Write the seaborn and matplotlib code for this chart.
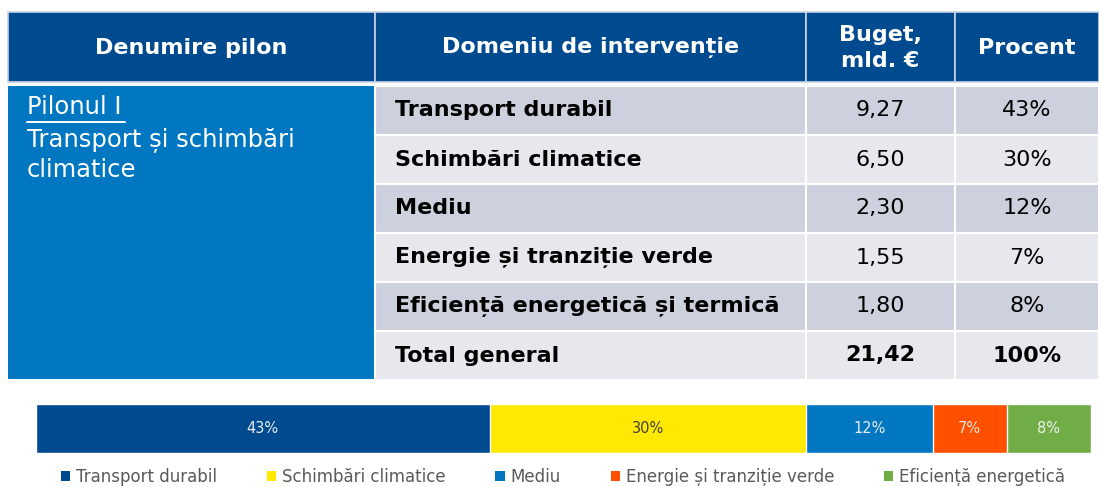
import numpy as np
import pandas as pd
import seaborn as sns
import matplotlib.pyplot as plt
from matplotlib.patches import Rectangle, Patch

# data
domenii = ["Transport durabil", "Schimbări climatice", "Mediu",
           "Energie și tranziție verde", "Eficiență energetică și termică"]
buget = [9.27, 6.50, 2.30, 1.55, 1.80]
procent = [43, 30, 12, 7, 8]
total_buget = 21.42
total_procent = 100
legend_labels = ["Transport durabil", "Schimbări climatice", "Mediu",
                 "Energie și tranziție verde", "Eficiență energetică"]
header = ["Denumire pilon", "Domeniu de intervenție", "Buget,\nmld. €", "Procent"]
pilon_title = "Pilonul I"
pilon_name = "Transport și schimbări\nclimatice"

colors = ["#004A8F", "#FFE900", "#0077C0", "#FF5000", "#70AD47"]
label_colors = ["#E8ECF4", "#404040", "#E8ECF4", "#F3E3DA", "#EEF3EA"]

sns.set_theme(style="white")
plt.rcParams['font.family'] = ['DejaVu Sans']

W, H = 1099, 487
fig = plt.figure(figsize=(W / 100, H / 100), dpi=100)

# ---- table (pixel layout) ----
tab = fig.add_axes([0, 0, 1, 1])
tab.set_xlim(0, W)
tab.set_ylim(H, 0)
tab.axis("off")

col_x = [8, 375, 806, 955, 1099]
head_top, head_bot = 12, 82
row_top = 86
row_h = 49

for i in range(4):
    tab.add_patch(Rectangle((col_x[i], head_top), col_x[i + 1] - col_x[i], head_bot - head_top,
                            facecolor="#004A8F", edgecolor="#C9D3E6", lw=1.2))
    tab.text((col_x[i] + col_x[i + 1]) / 2, (head_top + head_bot) / 2 + 1, header[i],
             color="white", fontsize=16, fontweight="bold", ha="center", va="center",
             linespacing=1.4)

rows = list(zip(domenii, [f"{b:.2f}".replace(".", ",") for b in buget], [f"{p}%" for p in procent]))
rows.append(("Total general", f"{total_buget:.2f}".replace(".", ","), f"{total_procent}%"))
n = len(rows)

tab.add_patch(Rectangle((col_x[0], row_top), col_x[1] - col_x[0], row_h * n - 1,
                        facecolor="#0077C0", edgecolor="none"))
tab.text(27, row_top + 21, pilon_title, color="white", fontsize=17.5, ha="left", va="center")
tab.plot([27, 125], [row_top + 36, row_top + 36], color="white", lw=1.4)
tab.text(27, row_top + 69, pilon_name, color="white", fontsize=17.5, ha="left", va="center",
         linespacing=1.25)

for r, (name, val, pct) in enumerate(rows):
    y0 = row_top + r * row_h
    bg = "#CDD1DE" if r % 2 == 0 else "#E7E8EE"
    for c in range(1, 4):
        tab.add_patch(Rectangle((col_x[c], y0), col_x[c + 1] - col_x[c], row_h,
                                facecolor=bg, edgecolor="white", lw=1.5))
    yc = y0 + row_h / 2
    bold = "bold" if r == n - 1 else "normal"
    tab.text(395, yc, name, fontsize=16, fontweight="bold", color="black", va="center", ha="left")
    tab.text((col_x[2] + col_x[3]) / 2, yc, val, fontsize=16, fontweight=bold, color="black",
             va="center", ha="center")
    tab.text((col_x[3] + col_x[4]) / 2, yc, pct, fontsize=16, fontweight=bold, color="black",
             va="center", ha="center")

# ---- stacked bar ----
ax = fig.add_axes([36 / W, (H - 453) / H, 1055 / W, 49 / H])
cum = np.cumsum(procent)
df = pd.DataFrame({"domeniu": domenii, "cum": cum, "y": [""] * len(domenii)})
for i in reversed(range(len(domenii))):
    sns.barplot(data=df.iloc[[i]], x="cum", y="y", color=colors[i], saturation=1,
                width=1, orient="h", ax=ax)
for i in range(len(domenii)):
    ax.text(cum[i] - procent[i] / 2, 0, f"{procent[i]}%", color=label_colors[i],
            fontsize=10.5, ha="center", va="center")
ax.set_xlim(0, cum[-1])
ax.set_ylim(0.5, -0.5)
ax.axis("off")

handles = [Patch(facecolor=c, edgecolor="none") for c in colors]
fig.legend(handles, legend_labels, loc="center", bbox_to_anchor=(563 / W, (H - 477) / H),
           ncol=5, frameon=False, fontsize=12, handlelength=0.55, handleheight=0.55,
           handletextpad=0.35, columnspacing=3.0, labelcolor="#595959",
           borderpad=0, borderaxespad=0)

fig.savefig("out.png", dpi=100)
